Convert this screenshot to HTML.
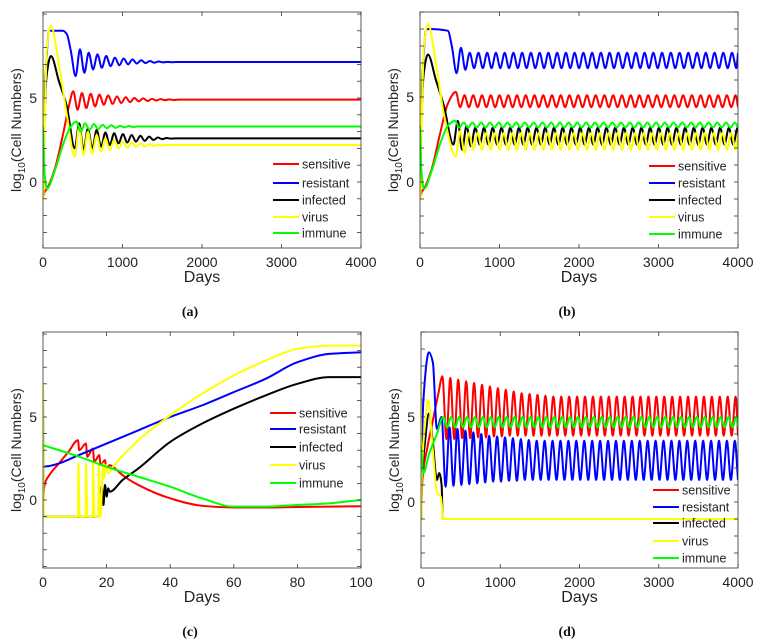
<!DOCTYPE html>
<html><head><meta charset="utf-8"><style>
html,body{margin:0;padding:0;background:#fff;}
svg{display:block;font-family:"Liberation Sans",sans-serif;}
</style></head><body>
<svg id="fig" width="761" height="643" viewBox="0 0 761 643"></svg>
<script>
// ---------- Panel (a) data ----------
const aRedT=[0,20,50,150,250,330,380], aRedV=[-1,-0.6,-0.4,0.8,2.8,4.6,5.4];
const aRedOsc=[4.3,5.3,4.4,5.25,4.5,5.2,4.6,5.15,4.65,5.1,4.7,5.05,4.75,5.0,4.8,4.98,4.82,4.95,4.85,4.93,4.87,4.92,4.88,4.9,4.9];
const aBlueT=[0,30,80,250,300,350,410], aBlueV=[-1,6,9,9,8.8,7.8,6.3];
const aBlueOsc=[7.9,6.5,7.7,6.7,7.6,6.8,7.5,6.9,7.4,6.95,7.35,7.0,7.3,7.05,7.25,7.08,7.2,7.1,7.17,7.12,7.15,7.13,7.14,7.14];
const aBlackT=[0,5,15,50,100,200,300,400], aBlackV=[6.9,-0.8,3,6.5,7.5,6,4.5,2.0];
const aBlackOsc=[3.5,1.9,3.2,2.0,3.1,2.1,2.95,2.2,2.9,2.3,2.85,2.35,2.8,2.4,2.75,2.45,2.7,2.5,2.65,2.55,2.62,2.58,2.6,2.6];
const aYellowT=[0,5,15,50,100,200,300,400], aYellowV=[6.9,-1,2,8,9.3,7,4,1.5];
const aYellowOsc=[3.3,1.6,3.0,1.7,2.8,1.8,2.6,1.9,2.5,2.0,2.4,2.05,2.35,2.1,2.3,2.12,2.25,2.15,2.22,2.17,2.2,2.2];
const aGreenT=[0,20,50,150,250,350,420], aGreenV=[3.3,0.5,-0.4,0.7,2.2,3.3,3.6];
const aGreenOsc=[3.0,3.5,3.1,3.45,3.15,3.4,3.2,3.38,3.22,3.35,3.25,3.33,3.28,3.3,3.3];
// ---------- Panel (b) data ----------
const bRedT=[0,20,50,150,250,350,450], bRedV=[-1,-0.6,-0.4,0.8,2.8,4.6,5.3];
const bRedOsc=[4.4,5.1,4.4];
const bBlueT=[0,30,80,350,400,460], bBlueV=[-1,6,9,8.9,8,6.4];
const bBlueOsc=[7.9,6.6,7.6,6.7];
const bBlackT=[0,5,15,50,100,200,300,420], bBlackV=[6.9,-0.8,3,6.5,7.5,6,4.5,2.2];
const bBlackOsc=[3.6,1.9,3.3,2.1,3.2,2.2];
const bYellowT=[0,5,15,50,100,200,300,450], bYellowV=[6.9,-1,2,8,9.3,7,4,1.5];
const bYellowOsc=[3.0,1.7,2.9,1.9];
const bGreenT=[0,20,50,150,250,350,440], bGreenV=[3.3,0.5,-0.4,0.7,2.2,3.3,3.6];
const bGreenOsc=[3.2,3.5,3.2];
// ---------- Panel (c) data ----------
const cRedT=[0,0.3,2,5,8,11,11.4,13.5,13.9,15.7,16.1,17.7,18.1,19.5,19.9,21,22,25,30,40,50,60,70,80,90,100];
const cRedV=[-1,0.7,1.5,2.2,2.9,3.6,3.0,3.4,2.6,3.1,2.3,2.7,2.1,2.4,1.9,2.1,2.0,1.5,0.9,0.1,-0.35,-0.45,-0.45,-0.42,-0.4,-0.38];
const cBlueT=[0,2,5,10,20,30,40,50,60,70,80,90,100];
const cBlueV=[2,2.05,2.2,2.6,3.4,4.2,5.0,5.7,6.5,7.3,8.3,8.8,8.9];
const cBlackT=[0,0.2,17,17.8,18.5,19,19.5,20,20.5,21,25,30,40,50,60,70,80,90,100];
const cBlackV=[6.9,-1,-1,-0.7,0.8,-0.3,0.9,0.2,0.7,0.5,1.2,1.9,3.5,4.6,5.5,6.3,7.0,7.4,7.4];
const cYellowT=[0,0.2,11,11.1,11.6,13.4,13.5,14,15.6,15.7,16.2,17.4,17.5,18,19,19.2,19.7,20.5,22,30,40,50,60,70,80,90,100];
const cYellowV=[6.9,-1,-1,2.2,-1,-1,2.2,-1,-1,2.2,-1,-1,2.2,-1,2.2,1.3,2.1,1.6,2.0,3.6,5.1,6.4,7.5,8.4,9.1,9.3,9.3];
const cGreenT=[0,10,20,30,40,50,60,70,80,90,100];
const cGreenV=[3.3,2.7,2.0,1.4,0.8,0.1,-0.4,-0.4,-0.3,-0.2,0];
// ---------- Panel (d) data ----------
const dRedT=[0,20,80,150,220,270], dRedV=[-1,1.5,3.2,4.8,6.4,7.4];
const dRedOsc=[3.7,7.3,3.7,7.2,3.75,7.1,3.75,7.0,3.8,6.9,3.8,6.8,3.85,6.7,3.85,6.6,3.9,6.5,3.9,6.4,3.9,6.35,3.9,6.3,3.9,6.25,3.9,6.2,3.9];
const dBlueT=[0,30,100,150,200,260], dBlueV=[1.5,6,8.8,8.2,4.3,5.0];
const dBlueOsc=[0.9,4.4,0.95,4.3,1.0,4.2,1.05,4.1,1.1,4.0,1.15,3.9,1.2,3.85,1.2,3.8,1.25,3.75,1.25,3.7,1.3,3.65,1.3,3.6,1.3];
const dBlackT=[0,3,10,50,100,150,200,230,260,275,4000], dBlackV=[6.9,-1,1,3.5,5.2,3.5,1.3,1.7,1.0,-1,-1];
const dYellowT=[0,3,10,50,90,150,200,250,265,275,4000], dYellowV=[6.9,-1,1.5,4.5,6.0,3.0,0.6,0.3,-0.3,-1,-1];
const dGreenT=[0,30,100,200,280], dGreenV=[3.3,1.7,2.8,4.0,5.0];
const dGreenOsc=[4.4,5.0,4.4,5.0,4.4];

const legendNames=["sensitive","resistant","infected","virus","immune"];
const colors=["#ff0000","#0000ff","#000000","#ffff00","#00ff00"];
const NS="http://www.w3.org/2000/svg";
const svg=document.getElementById('fig');
function mk(tag,attrs,parent){const e=document.createElementNS(NS,tag);for(const k in attrs)e.setAttribute(k,attrs[k]);(parent||svg).appendChild(e);return e;}

function buildPoints(T,V,osc,hp,xmax){
  const pts=T.map((t,i)=>[t,V[i]]);
  if(osc){
    let t=T[T.length-1];
    for(const v of osc){t+=hp;pts.push([t,v]);}
    const n=osc.length;
    const pair=n>=2?[osc[n-2],osc[n-1]]:[osc[n-1],osc[n-1]];
    let k=0;
    while(t<xmax){t+=hp;pts.push([Math.min(t,xmax),pair[k%2]]);k++;}
  }
  return pts;
}
// monotone cubic (Fritsch-Carlson) in pixel space
function pathFrom(pts,X,Y){
  const xs=pts.map(p=>X(p[0])), ys=pts.map(p=>Y(p[1]));
  const n=xs.length;
  const d=[],m=new Array(n).fill(0);
  for(let i=0;i<n-1;i++){const dx=xs[i+1]-xs[i];d.push(dx>1e-9?(ys[i+1]-ys[i])/dx:0);}
  m[0]=d[0]||0;m[n-1]=d[n-2]||0;
  for(let i=1;i<n-1;i++){
    if(d[i-1]*d[i]<=0)m[i]=0;
    else{const w1=2*(xs[i+1]-xs[i])+(xs[i]-xs[i-1]),w2=(xs[i+1]-xs[i])+2*(xs[i]-xs[i-1]);m[i]=(w1+w2)/(w1/d[i-1]+w2/d[i]);}
  }
  let s="M"+xs[0].toFixed(2)+","+ys[0].toFixed(2);
  for(let i=0;i<n-1;i++){
    const h=xs[i+1]-xs[i];
    if(h<1e-9){s+="L"+xs[i+1].toFixed(2)+","+ys[i+1].toFixed(2);continue;}
    s+="C"+(xs[i]+h/3).toFixed(2)+","+(ys[i]+m[i]*h/3).toFixed(2)+" "+(xs[i+1]-h/3).toFixed(2)+","+(ys[i+1]-m[i+1]*h/3).toFixed(2)+" "+xs[i+1].toFixed(2)+","+ys[i+1].toFixed(2);
  }
  return s;
}

function panel(cfg){
  const g=mk('g',{});
  
  
  const X=t=>cfg.L+(t/cfg.xmax)*(cfg.R-cfg.L);
  const Y=v=>cfg.y0-v*cfg.unit;
  const clipId='clip'+cfg.id;
  const cp=mk('clipPath',{id:clipId},g);mk('rect',{x:cfg.L,y:cfg.T,width:cfg.R-cfg.L,height:cfg.B-cfg.T},cp);
  const sg=mk('g',{'clip-path':'url(#'+clipId+')'},g);
  cfg.series.forEach((s,i)=>{
    const pts=buildPoints(s.T,s.V,s.osc,cfg.hp,cfg.xmax);
    const p=mk('path',{d:pathFrom(pts,X,Y),fill:'none',stroke:colors[i],'stroke-width':2,'stroke-linejoin':'round'},sg);
    
    
  });
  const box=mk('rect',{x:cfg.L,y:cfg.T,width:cfg.R-cfg.L,height:cfg.B-cfg.T,fill:'none',stroke:'#333','stroke-width':0.8},g);
  
  
  for(let v=-4;v<=10;v++){
    const y=Y(v); if(y<cfg.T-0.5||y>cfg.B+0.5)continue;
    mk('line',{x1:cfg.L,x2:cfg.L+4,y1:y,y2:y,stroke:'#333','stroke-width':0.8},g);
    mk('line',{x1:cfg.R,x2:cfg.R-4,y1:y,y2:y,stroke:'#333','stroke-width':0.8},g);
  }
  [0,5].forEach(v=>{const t=mk('text',{x:cfg.L-6,y:Y(v)+5,'font-size':14,'text-anchor':'end',fill:'#222'},g);t.textContent=v;
    });
  cfg.xticks.forEach(xv=>{
    const x=X(xv);
    mk('line',{x1:x,x2:x,y1:cfg.B,y2:cfg.B-4,stroke:'#333','stroke-width':0.8},g);
    mk('line',{x1:x,x2:x,y1:cfg.T,y2:cfg.T+4,stroke:'#333','stroke-width':0.8},g);
    const t=mk('text',{x:x,y:cfg.B+19,'font-size':14,'text-anchor':'middle',fill:'#222'},g);t.textContent=xv;
    
  });
  const xl=mk('text',{x:(cfg.L+cfg.R)/2,y:cfg.B+34,'font-size':16,'text-anchor':'middle',fill:'#222'},g);xl.textContent='Days';
  
  const yc=(cfg.T+cfg.B)/2, yx=cfg.L-22;
  const yl=mk('text',{x:yx,y:yc,'font-size':14,'text-anchor':'middle',fill:'#222',transform:'rotate(-90 '+yx+' '+yc+')'},g);
  yl.innerHTML='log<tspan font-size="10" dy="4">10</tspan><tspan dy="-4">(Cell Numbers)</tspan>';
  
  cfg.legY.forEach((ly,i)=>{
    const le=mk('g',{},g);
    
    
    mk('line',{x1:cfg.legX,x2:cfg.legX+26,y1:ly,y2:ly,stroke:colors[i],'stroke-width':2},le);
    const t=mk('text',{x:cfg.legX+29,y:ly+4.5,'font-size':12.5,fill:'#222'},le);t.textContent=legendNames[i];
  });
  const pl=mk('text',{x:cfg.labX,y:cfg.labY,'font-size':14,'font-weight':'bold','text-anchor':'middle','font-family':'"Liberation Serif",serif',fill:'#111'},g);
  pl.textContent='('+cfg.id+')';
  
}

const x4=[0,1000,2000,3000,4000];
panel({id:'a',L:43,R:361,T:12,B:248,y0:182,unit:16.8,xmax:4000,hp:55,xticks:x4,legX:273,legY:[164,183,200,217,233],labX:190,labY:316,
  series:[{T:aRedT,V:aRedV,osc:aRedOsc},{T:aBlueT,V:aBlueV,osc:aBlueOsc},{T:aBlackT,V:aBlackV,osc:aBlackOsc},{T:aYellowT,V:aYellowV,osc:aYellowOsc},{T:aGreenT,V:aGreenV,osc:aGreenOsc}]});
panel({id:'b',L:420,R:738,T:12,B:248,y0:182,unit:17,xmax:4000,hp:55,xticks:x4,legX:649,legY:[166,183,200,217,234],labX:567,labY:316,
  series:[{T:bRedT,V:bRedV,osc:bRedOsc},{T:bBlueT,V:bBlueV,osc:bBlueOsc},{T:bBlackT,V:bBlackV,osc:bBlackOsc},{T:bYellowT,V:bYellowV,osc:bYellowOsc},{T:bGreenT,V:bGreenV,osc:bGreenOsc}]});
panel({id:'c',L:43,R:361,T:332,B:568,y0:500,unit:16.6,xmax:100,hp:1,xticks:[0,20,40,60,80,100],legX:270,legY:[413,429,447,465,483],labX:190,labY:636,
  series:[{T:cRedT,V:cRedV},{T:cBlueT,V:cBlueV},{T:cBlackT,V:cBlackV},{T:cYellowT,V:cYellowV},{T:cGreenT,V:cGreenV}]});
panel({id:'d',L:421,R:738,T:332,B:568,y0:502,unit:17,xmax:4000,hp:50,xticks:x4,legX:653,legY:[490,507,523,541,558],labX:567,labY:636,
  series:[{T:dRedT,V:dRedV,osc:dRedOsc},{T:dBlueT,V:dBlueV,osc:dBlueOsc},{T:dBlackT,V:dBlackV},{T:dYellowT,V:dYellowV},{T:dGreenT,V:dGreenV,osc:dGreenOsc}]});
</script>
</body></html>
